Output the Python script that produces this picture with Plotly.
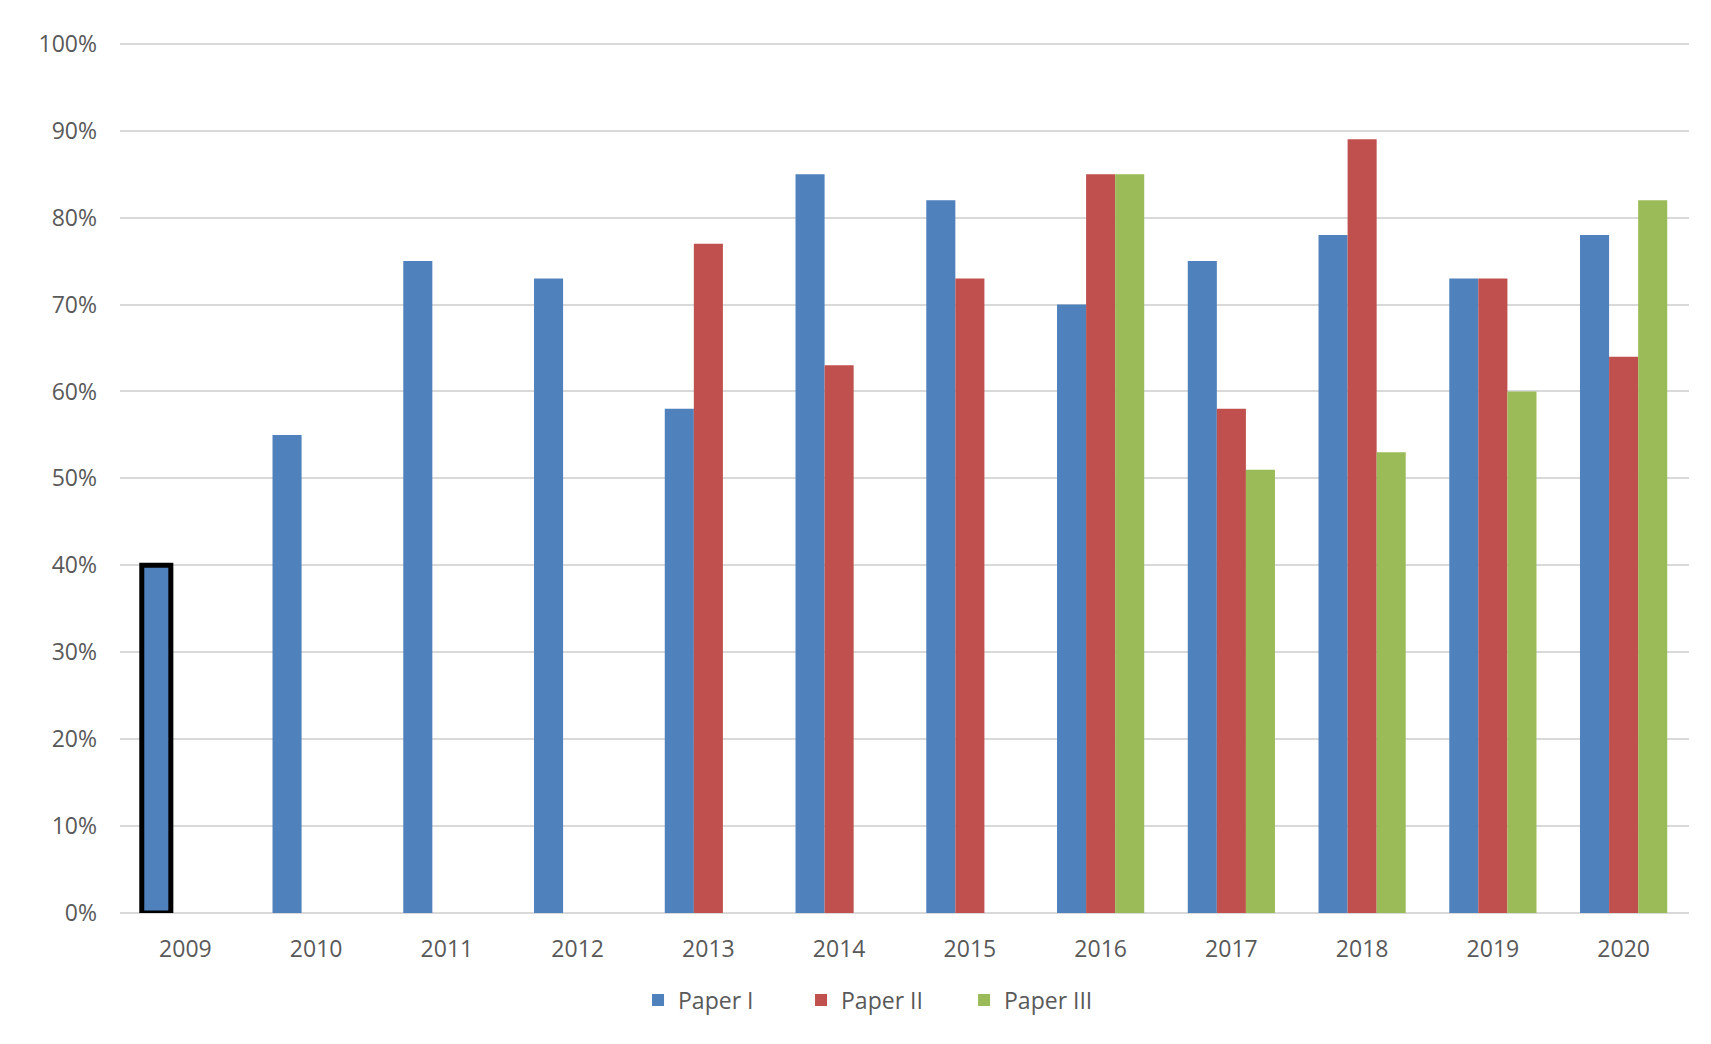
import plotly.graph_objects as go

years = ["2009", "2010", "2011", "2012", "2013", "2014", "2015", "2016", "2017", "2018", "2019", "2020"]
paper_1 = [0.40, 0.55, 0.75, 0.73, 0.58, 0.85, 0.82, 0.70, 0.75, 0.78, 0.73, 0.78]
paper_2 = [None, None, None, None, 0.77, 0.63, 0.73, 0.85, 0.58, 0.89, 0.73, 0.64]
paper_3 = [None, None, None, None, None, None, None, 0.85, 0.51, 0.53, 0.60, 0.82]
highlight_years = ["2009"]
highlight_vals = [0.40]
y_ticks = [0, 0.1, 0.2, 0.3, 0.4, 0.5, 0.6, 0.7, 0.8, 0.9, 1.0]

font_family = "Open Sans, Segoe UI, sans-serif"
grey = "#595959"
fs = 23

fig = go.Figure()
fig.add_trace(go.Bar(name="Paper I", x=years, y=paper_1, offsetgroup="1",
                     marker=dict(color="#4F81BD", line=dict(width=0))))
fig.add_trace(go.Bar(name="Paper II", x=years, y=paper_2, offsetgroup="2",
                     marker=dict(color="#C0504D", line=dict(width=0))))
fig.add_trace(go.Bar(name="Paper III", x=years, y=paper_3, offsetgroup="3",
                     marker=dict(color="#9BBB59", line=dict(width=0))))
fig.add_trace(go.Bar(name="highlight", x=highlight_years, y=highlight_vals, offsetgroup="1",
                     showlegend=False, hoverinfo="skip",
                     marker=dict(color="rgba(0,0,0,0)", line=dict(color="black", width=5))))

fig.update_layout(
    width=1703, height=1036,
    margin=dict(l=112, r=22, t=34, b=131),
    paper_bgcolor="white", plot_bgcolor="white",
    barmode="group", bargap=0.333, bargroupgap=0,
    font=dict(family=font_family, size=fs, color=grey),
    legend=dict(orientation="h", x=0.486, xanchor="center", y=-0.1, yanchor="middle",
                font=dict(size=fs, color=grey), itemwidth=30, entrywidth=118,
                traceorder="normal"),
    xaxis=dict(showgrid=False, showline=False, ticks="", ticklabelstandoff=20,
               tickfont=dict(size=fs, color=grey)),
    yaxis=dict(range=[0, 1.002], tickvals=y_ticks, tickformat=".0%",
               showgrid=True, gridcolor="#D9D9D9", gridwidth=1.5,
               zeroline=True, zerolinecolor="#D9D9D9", zerolinewidth=1.5,
               showline=False, ticks="", ticklabelstandoff=22,
               tickfont=dict(size=fs, color=grey)),
)

fig.write_html("out.html")
